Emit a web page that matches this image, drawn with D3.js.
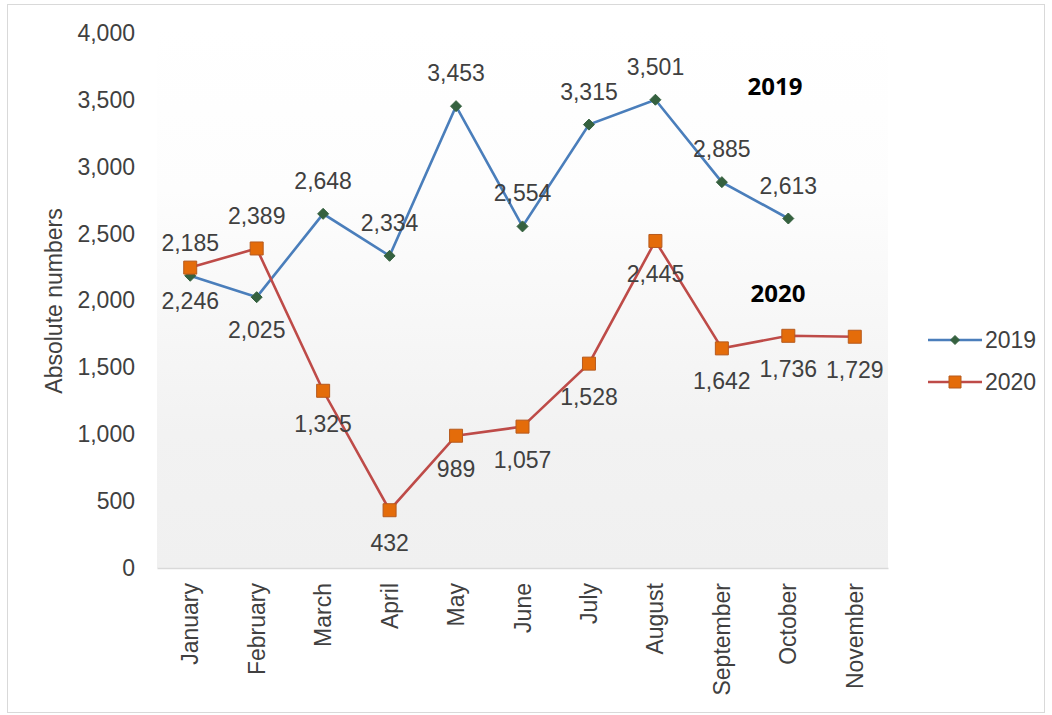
<!DOCTYPE html>
<html>
<head>
<meta charset="utf-8">
<script src="https://cdn.jsdelivr.net/npm/d3@7"></script>
<style>
    body { margin: 0; background: #fff; }
    svg text { font-family: "Liberation Sans", Arial, sans-serif; fill: #404040; }
</style>
</head>
<body>
<svg id="chart" width="1052" height="715"></svg>
<script>
    var MONTHS = ['January', 'February', 'March', 'April', 'May', 'June',
        'July', 'August', 'September', 'October', 'November'];
    var VALUES_2019 = [2185, 2025, 2648, 2334, 3453, 2554, 3315, 3501, 2885, 2613, null];
    var VALUES_2020 = [2246, 2389, 1325, 432, 989, 1057, 1528, 2445, 1642, 1736, 1729];
    // Where each data label sits: above or below its point
    var LABEL_POS_2019 = ['t', 'b', 't', 't', 't', 't', 't', 't', 't', 't', 't'];
    var LABEL_POS_2020 = ['b', 't', 'b', 'b', 'b', 'b', 'b', 'b', 'b', 'b', 'b'];
    var Y_TICKS = [0, 500, 1000, 1500, 2000, 2500, 3000, 3500, 4000];

    var PLOT = { left: 157, right: 888, top: 28, bottom: 568 },
        FONT_SIZE = 23,
        LABEL_OFFSET = 33;

    var series = [
        { name: '2019', values: VALUES_2019, pos: LABEL_POS_2019,
          line: '#4a7ebb', fill: '#35613f', stroke: '#35613f', shape: 'diamond' },
        { name: '2020', values: VALUES_2020, pos: LABEL_POS_2020,
          line: '#be4b48', fill: '#e46c0a', stroke: '#b65a1e', shape: 'square' }
    ];

    var svg = d3.select('#chart');
    var fmt = d3.format(',');

    var x = d3.scaleBand().domain(MONTHS).range([PLOT.left, PLOT.right]);
    var y = d3.scaleLinear().domain([0, 4000]).range([PLOT.bottom, 33]);
    function cx(m) { return x(m) + x.bandwidth() / 2; }

    // Outer frame
    svg.append('rect')
        .attr('x', 7.5).attr('y', 4.5)
        .attr('width', 1037).attr('height', 708)
        .attr('fill', '#fff')
        .attr('stroke', '#d9d9d9');

    // Plot area with soft white-to-grey gradient
    var grad = svg.append('defs').append('linearGradient')
        .attr('id', 'plotFill')
        .attr('x1', 0).attr('y1', 0).attr('x2', 0).attr('y2', 1);
    grad.append('stop').attr('offset', '0%').attr('stop-color', '#ffffff');
    grad.append('stop').attr('offset', '30%').attr('stop-color', '#fdfdfd');
    grad.append('stop').attr('offset', '75%').attr('stop-color', '#f2f2f2');
    grad.append('stop').attr('offset', '100%').attr('stop-color', '#f0f0f0');

    svg.append('rect')
        .attr('x', PLOT.left).attr('y', PLOT.top)
        .attr('width', PLOT.right - PLOT.left)
        .attr('height', PLOT.bottom - PLOT.top)
        .attr('fill', 'url(#plotFill)');

    // Y axis: labels only
    var yAxis = svg.append('g')
        .attr('transform', 'translate(' + (PLOT.left - 8) + ',0)')
        .call(d3.axisLeft(y).tickValues(Y_TICKS).tickFormat(fmt).tickSize(0).tickPadding(14));
    yAxis.select('.domain').remove();
    yAxis.selectAll('text')
        .attr('font-size', FONT_SIZE)
        .style('font-family', '"Liberation Sans", Arial, sans-serif')
        .attr('fill', '#404040');

    // X axis: baseline and rotated month names
    var xAxis = svg.append('g')
        .attr('transform', 'translate(0,' + PLOT.bottom + ')')
        .call(d3.axisBottom(x).tickSize(0).tickPadding(0));
    xAxis.select('.domain').attr('stroke', '#d9d9d9').attr('stroke-width', 1.5);
    xAxis.selectAll('text')
        .attr('font-size', FONT_SIZE)
        .style('font-family', '"Liberation Sans", Arial, sans-serif')
        .attr('fill', '#404040')
        .attr('text-anchor', 'end')
        .attr('transform', 'translate(0,15) rotate(-90)')
        .attr('x', 0).attr('y', 0)
        .attr('dy', '0.35em');

    svg.append('text')
        .attr('transform', 'translate(62,301) rotate(-90)')
        .attr('text-anchor', 'middle')
        .attr('font-size', FONT_SIZE)
        .text('Absolute numbers');

    // Square-ish diamond like the spreadsheet marker; squares from d3.symbol
    function markerPath(shape, size) {
        if (shape === 'diamond') {
            var r = size / 2;
            return 'M0,' + (-r) + 'L' + r + ',0L0,' + r + 'L' + (-r) + ',0Z';
        }
        return d3.symbol().type(d3.symbolSquare).size(size * size)();
    }

    var line = d3.line()
        .defined(function(d) { return d.value != null; })
        .x(function(d) { return cx(d.month); })
        .y(function(d) { return y(d.value); });

    series.forEach(function(s) {
        var pts = MONTHS.map(function(m, i) {
            return { month: m, value: s.values[i], pos: s.pos[i] };
        });
        var valid = pts.filter(function(d) { return d.value != null; });
        var g = svg.append('g');

        g.append('path')
            .datum(pts)
            .attr('d', line)
            .attr('fill', 'none')
            .attr('stroke', s.line)
            .attr('stroke-width', 2.6);

        g.selectAll('path.marker')
            .data(valid)
            .enter()
            .append('path')
            .classed('marker', true)
            .attr('transform', function(d) { return 'translate(' + cx(d.month) + ',' + y(d.value) + ')'; })
            .attr('d', markerPath(s.shape, s.shape === 'diamond' ? 11 : 13))
            .attr('fill', s.fill)
            .attr('stroke', s.stroke)
            .attr('stroke-width', 1);

        g.selectAll('text.label')
            .data(valid)
            .enter()
            .append('text')
            .classed('label', true)
            .attr('x', function(d) { return cx(d.month); })
            .attr('y', function(d) { return y(d.value) + (d.pos === 't' ? -LABEL_OFFSET : LABEL_OFFSET); })
            .attr('dy', '0.35em')
            .attr('text-anchor', 'middle')
            .attr('font-size', FONT_SIZE)
            .text(function(d) { return fmt(d.value); });
    });

    // Bold series names inside the plot
    svg.append('text')
        .attr('x', 775).attr('y', 87).attr('dy', '0.35em')
        .attr('text-anchor', 'middle')
        .style('font-family', '"Open Sans", sans-serif')
        .attr('font-weight', 'bold')
        .attr('font-size', 24)
        .style('fill', '#000')
        .text('2019');
    svg.append('text')
        .attr('x', 778).attr('y', 294).attr('dy', '0.35em')
        .attr('text-anchor', 'middle')
        .style('font-family', '"Open Sans", sans-serif')
        .attr('font-weight', 'bold')
        .attr('font-size', 24)
        .style('fill', '#000')
        .text('2020');

    // Legend
    var legend = svg.append('g');
    series.forEach(function(s, i) {
        var ly = 340 + i * 42;
        legend.append('line')
            .attr('x1', 928).attr('x2', 982)
            .attr('y1', ly).attr('y2', ly)
            .attr('stroke', s.line)
            .attr('stroke-width', 2.6);
        legend.append('path')
            .attr('transform', 'translate(955,' + ly + ')')
            .attr('d', markerPath(s.shape, s.shape === 'diamond' ? 9 : 12))
            .attr('fill', s.fill)
            .attr('stroke', s.stroke);
        legend.append('text')
            .attr('x', 985).attr('y', ly).attr('dy', '0.35em')
            .attr('font-size', FONT_SIZE)
            .text(s.name);
    });
</script>
</body>
</html>
